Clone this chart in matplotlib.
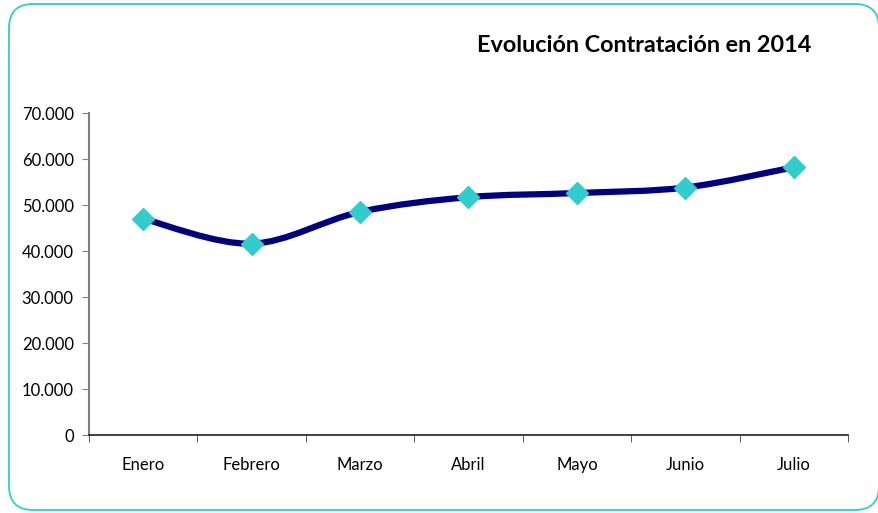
import numpy as np
import matplotlib
matplotlib.use('Agg')
import matplotlib.pyplot as plt
from matplotlib.path import Path
from matplotlib.patches import PathPatch, FancyBboxPatch
from matplotlib.ticker import FuncFormatter

meses = ['Enero', 'Febrero', 'Marzo', 'Abril', 'Mayo', 'Junio', 'Julio']
contratos = [47000, 41600, 48500, 51700, 52600, 53800, 58200]
titulo = 'Evolución Contratación en 2014'

plt.rcParams['font.family'] = ['Lato', 'DejaVu Sans']

W, H = 879, 513
fig = plt.figure(figsize=(W / 100, H / 100), dpi=100)

# marco redondeado estilo Excel, en un eje de fondo con coordenadas en pixeles
fondo = fig.add_axes([0, 0, 1, 1], zorder=-1)
fondo.set_xlim(0, W)
fondo.set_ylim(0, H)
fondo.axis('off')
fondo.add_patch(FancyBboxPatch((9, 3), 870, 506,
                               boxstyle='round,pad=0,rounding_size=24',
                               facecolor='white', edgecolor='#33CCCC', linewidth=1.3))

ax = fig.add_axes([89 / W, 1 - 435 / H, 759 / W, 322 / H])
ax.set_facecolor('none')

x = np.arange(len(meses))
y = np.array(contratos, dtype=float)

# curva suavizada (Bezier tipo Excel) a traves de los puntos
verts = [(x[0], y[0])]
codes = [Path.MOVETO]
n = len(x)
for i in range(n - 1):
    p0 = (x[max(i - 1, 0)], y[max(i - 1, 0)])
    p1 = (x[i], y[i])
    p2 = (x[i + 1], y[i + 1])
    p3 = (x[min(i + 2, n - 1)], y[min(i + 2, n - 1)])
    c1 = (p1[0] + (p2[0] - p0[0]) / 6, p1[1] + (p2[1] - p0[1]) / 6)
    c2 = (p2[0] - (p3[0] - p1[0]) / 6, p2[1] - (p3[1] - p1[1]) / 6)
    verts += [c1, c2, p2]
    codes += [Path.CURVE4] * 3
ax.add_patch(PathPatch(Path(verts, codes), facecolor='none', edgecolor='#000080',
                       linewidth=4.5, capstyle='round', zorder=2))
ax.plot(x, y, linestyle='none', marker='D', markersize=11, color='#33CCCC',
        markeredgecolor='#33CCCC', zorder=3)

ax.set_xlim(-0.5, len(meses) - 0.5)
ax.set_ylim(0, 70000)
ax.set_yticks(np.arange(0, 70001, 10000))
ax.yaxis.set_major_formatter(FuncFormatter(lambda v, p: f'{int(v):,}'.replace(',', '.')))
ax.set_xticks(x)
ax.set_xticklabels(meses)
ax.set_xticks(np.arange(-0.5, len(meses), 1), minor=True)
ax.tick_params(axis='x', which='major', length=0, pad=16, labelsize=12)
ax.tick_params(axis='x', which='minor', length=5, color='#404040', direction='out')
ax.tick_params(axis='y', length=5, color='#808080', direction='out', labelsize=12, pad=6)

for s in ['top', 'right']:
    ax.spines[s].set_visible(False)
ax.spines['left'].set_color('#808080')
ax.spines['left'].set_linewidth(1.5)
ax.spines['bottom'].set_color('#202020')
ax.spines['bottom'].set_linewidth(1.2)

fig.text(644 / W, 1 - 46 / H, titulo, ha='center', va='center',
         fontsize=16.8, fontweight='bold')

fig.savefig('out.png', dpi=100)
